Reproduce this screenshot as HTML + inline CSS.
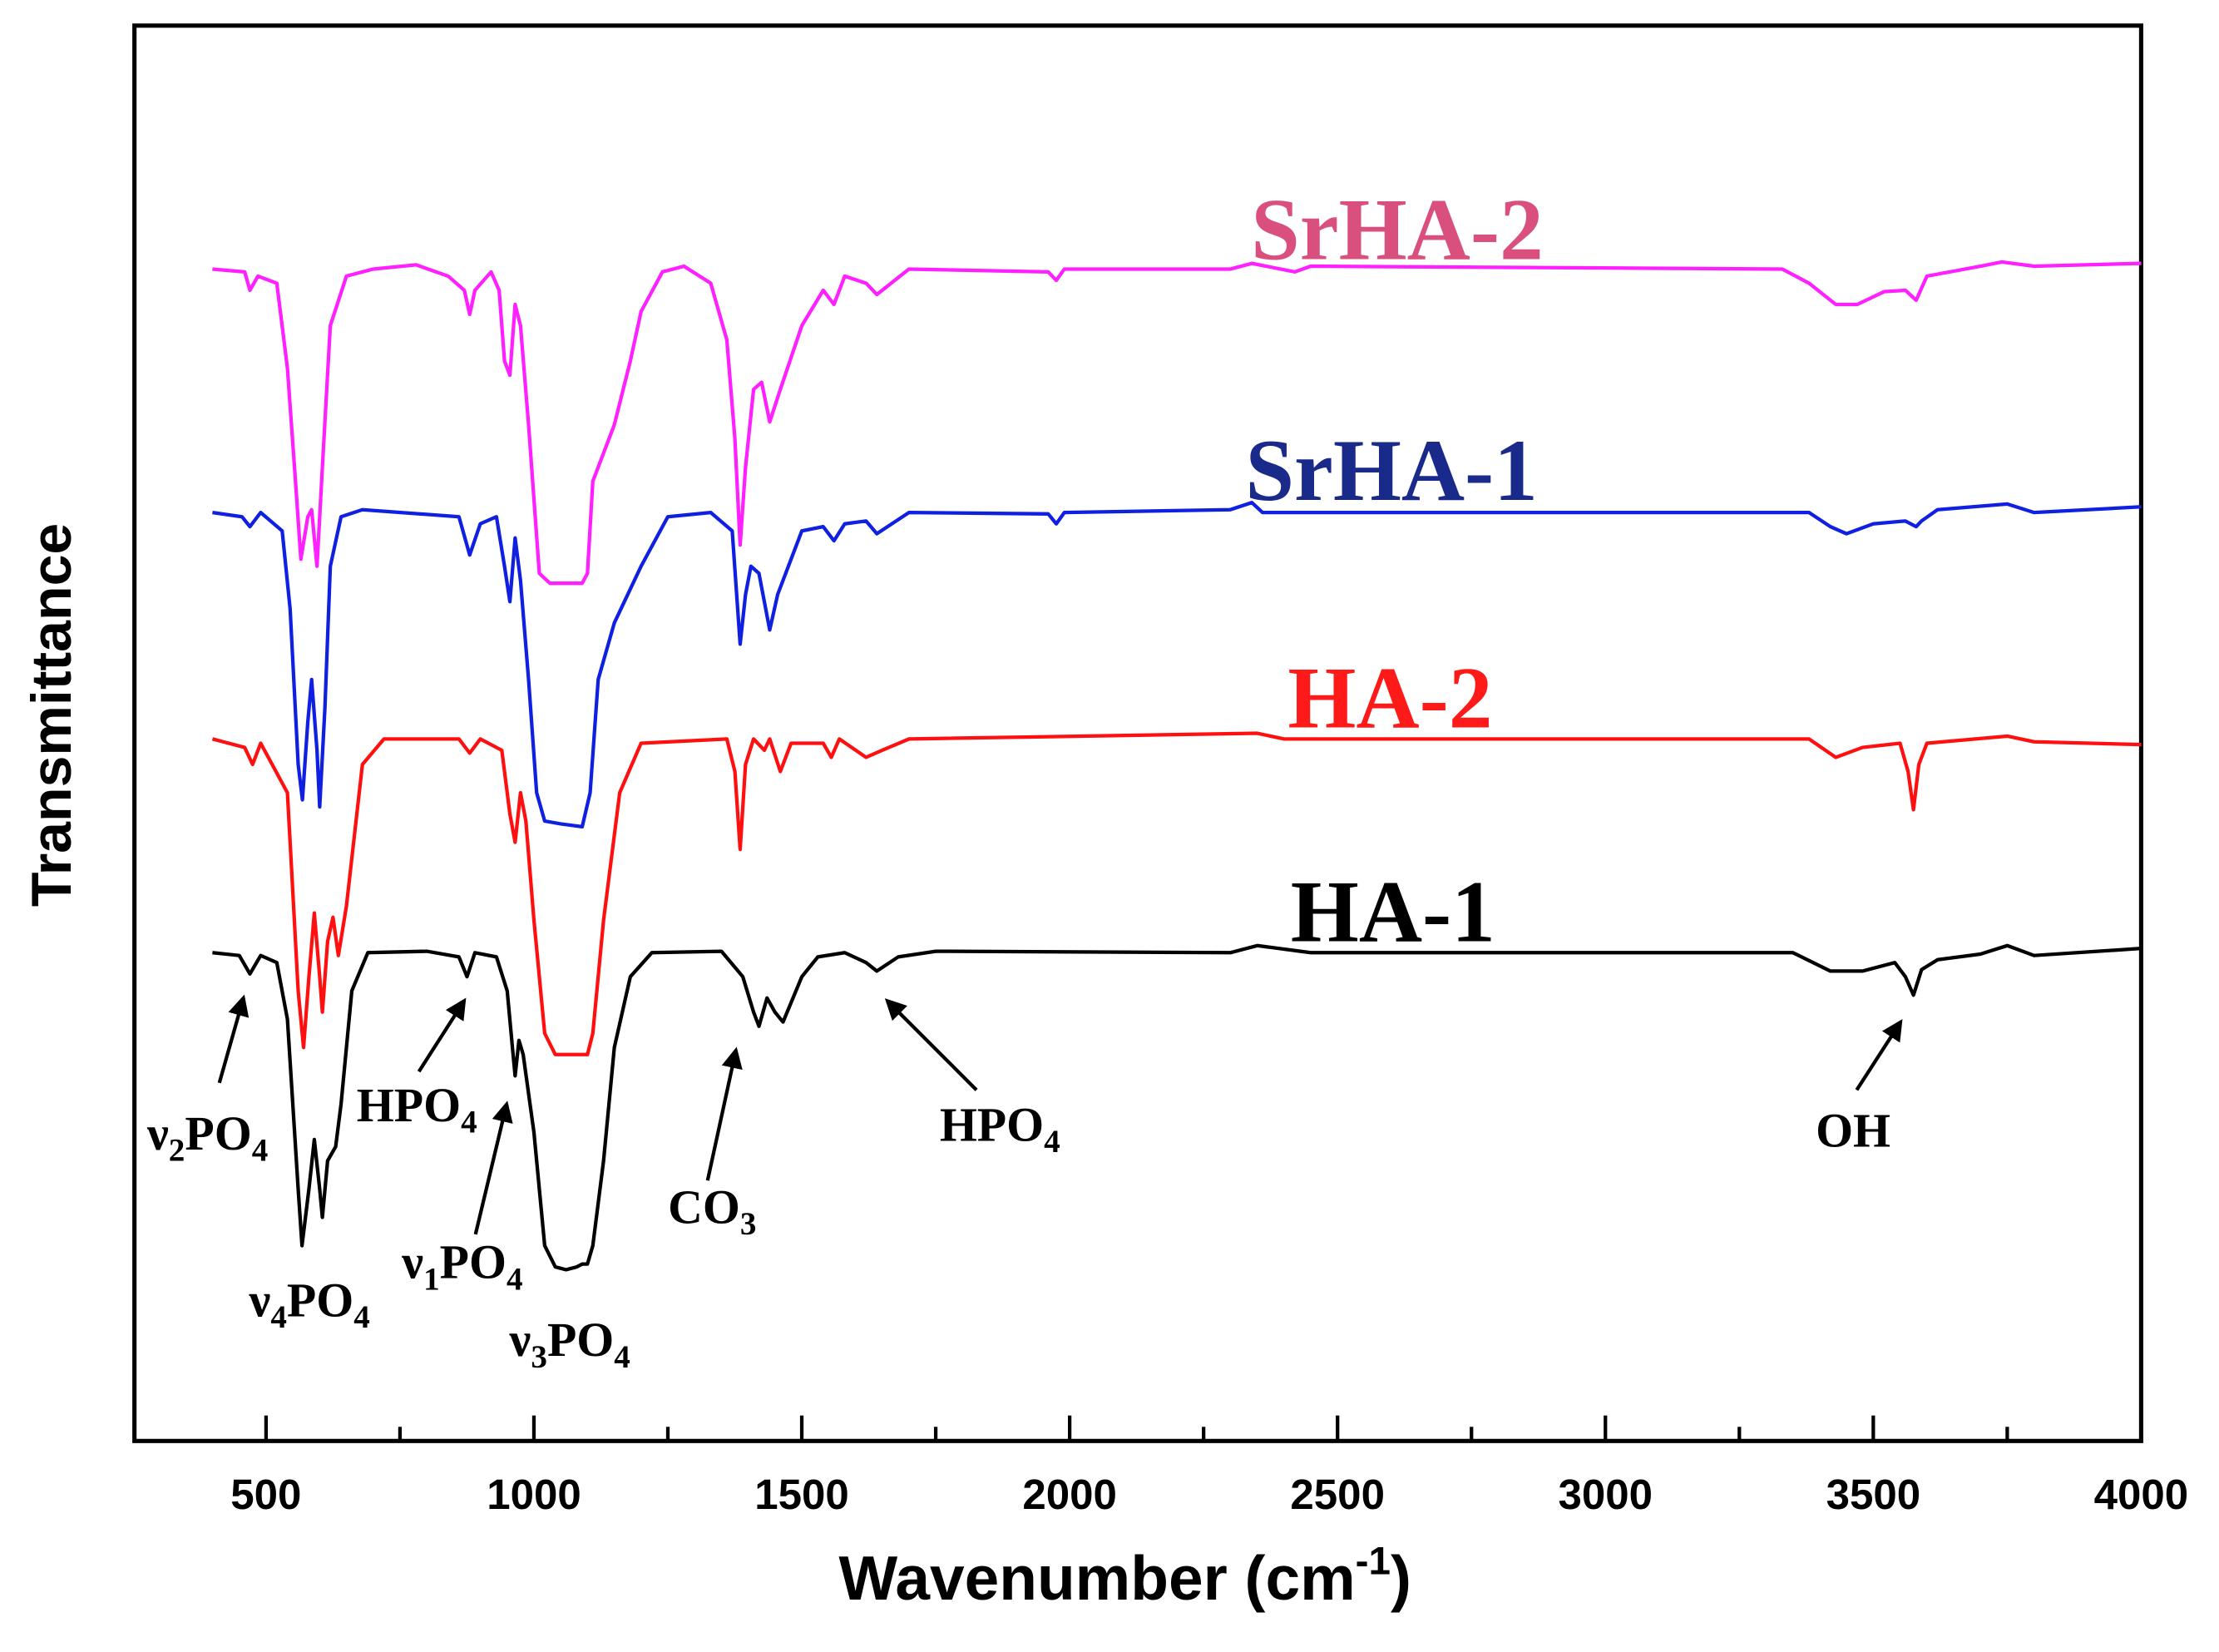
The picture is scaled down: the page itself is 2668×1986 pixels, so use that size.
<!DOCTYPE html>
<html><head><meta charset="utf-8"><style>
html,body{margin:0;padding:0;background:#fff}
svg{display:block}
.tick{font-family:"Liberation Sans",Arial,sans-serif;font-weight:bold;font-size:30px}
.ann{font-family:"Liberation Serif",serif;font-weight:bold;font-size:34px}
.sl{font-family:"Liberation Serif",serif;font-weight:bold;font-size:62px}
</style></head><body>
<svg id="chart" width="2668" height="1986" viewBox="0 0 1568 1167" xmlns="http://www.w3.org/2000/svg">
<defs><marker id="ah" markerWidth="6" markerHeight="6" refX="5" refY="3" orient="auto"><path d="M0,0 L6,3 L0,6 z" fill="#000"/></marker></defs>
<rect x="95" y="18" width="1418" height="1000" fill="none" stroke="#000" stroke-width="3"/>
<g id="xticks"></g>
<g id="series"></g>
<text x="795" y="1130" text-anchor="middle" font-family="Liberation Sans, Arial, sans-serif" font-weight="bold" font-size="44">Wavenumber (cm<tspan dy="-18" font-size="28">-1</tspan><tspan dy="18">)</tspan></text>
<text transform="translate(50,505) rotate(-90)" text-anchor="middle" font-family="Liberation Sans, Arial, sans-serif" font-weight="bold" font-size="40">Transmittance</text>
<text class="sl" x="884" y="183" fill="#d9507f">SrHA-2</text>
<text class="sl" x="880" y="353" fill="#1a2a8a">SrHA-1</text>
<text class="sl" x="910" y="514" fill="#ff1a1a">HA-2</text>
<text class="sl" x="912" y="665" fill="#000">HA-1</text>
<g stroke="#000" stroke-width="2.5" marker-end="url(#ah)">
<line x1="155" y1="765" x2="172" y2="705"/>
<line x1="296" y1="757" x2="328" y2="707"/>
<line x1="336" y1="872" x2="358" y2="780"/>
<line x1="500" y1="834" x2="520" y2="742"/>
<line x1="690" y1="770" x2="627" y2="707"/>
<line x1="1312" y1="770" x2="1343" y2="722"/>
</g>
<text class="ann" x="104" y="812">ν<tspan dy="8" font-size="23">2</tspan><tspan dy="-8">PO</tspan><tspan dy="8" font-size="23">4</tspan></text>
<text class="ann" x="176" y="930">ν<tspan dy="8" font-size="23">4</tspan><tspan dy="-8">PO</tspan><tspan dy="8" font-size="23">4</tspan></text>
<text class="ann" x="252" y="792">HPO<tspan dy="8" font-size="23">4</tspan></text>
<text class="ann" x="284" y="903">ν<tspan dy="8" font-size="23">1</tspan><tspan dy="-8">PO</tspan><tspan dy="8" font-size="23">4</tspan></text>
<text class="ann" x="360" y="958">ν<tspan dy="8" font-size="23">3</tspan><tspan dy="-8">PO</tspan><tspan dy="8" font-size="23">4</tspan></text>
<text class="ann" x="472" y="864">CO<tspan dy="8" font-size="23">3</tspan></text>
<text class="ann" x="664" y="806">HPO<tspan dy="8" font-size="23">4</tspan></text>
<text class="ann" x="1283" y="810">OH</text>
</svg>
<script>
const xTickValues=[500,1000,1500,2000,2500,3000,3500,4000];
const xMinorValues=[750,1250,1750,2250,2750,3250,3750];
const ha1W=[400,450,470,490,520,540,560,567,580,590,600,605,615,630,640,660,690,800,860,875,890,930,950,960,965,972,980,1000,1020,1040,1060,1080,1090,1100,1110,1130,1150,1180,1220,1350,1390,1410,1420,1435,1450,1465,1500,1530,1580,1620,1640,1680,1750,2300,2350,2450,3350,3420,3480,3540,3560,3575,3590,3620,3700,3750,3800,4000];
const ha1T=[673,675,688,675,680,720,840,880,840,805,840,860,820,810,780,700,673,672,676,690,673,676,700,740,760,735,745,800,880,895,897,895,893,893,880,820,740,690,673,672,690,715,725,705,715,722,690,676,673,680,686,676,672,673,668,673,673,686,686,680,690,703,685,678,674,668,675,670];
const ha2W=[400,460,475,490,540,560,570,580,590,600,605,615,625,635,650,680,720,860,880,900,940,955,965,975,985,1000,1020,1040,1100,1110,1130,1160,1200,1360,1375,1385,1395,1410,1430,1440,1460,1480,1540,1555,1570,1620,1650,1700,2350,2400,3380,3430,3480,3550,3565,3575,3585,3600,3750,3800,4000];
const ha2T=[522,528,540,525,560,700,740,690,645,690,715,665,648,675,640,540,522,522,532,522,530,575,595,560,580,650,730,745,745,730,650,560,525,522,545,600,540,522,530,522,545,525,525,535,522,535,530,522,518,522,522,535,528,525,545,572,540,525,520,524,526];
const srha1W=[400,455,470,490,530,545,560,568,578,585,595,600,610,620,640,680,860,880,900,930,945,955,965,975,990,1005,1020,1050,1090,1105,1120,1150,1200,1250,1330,1370,1385,1395,1405,1420,1440,1455,1500,1540,1560,1580,1620,1640,1700,1960,1975,1990,2300,2340,2360,3380,3420,3450,3500,3560,3580,3590,3620,3750,3800,4000];
const srha1T=[362,365,372,362,375,430,540,565,510,480,530,570,500,400,365,360,365,392,370,365,400,425,380,410,480,560,580,582,584,560,480,440,400,365,362,375,455,420,400,405,445,420,375,372,382,370,368,377,362,363,370,362,360,355,362,362,372,377,370,368,372,368,360,356,362,358];
const srha2W=[400,460,470,485,520,540,555,565,578,585,595,605,620,650,700,780,840,870,880,890,920,935,945,955,965,975,990,1010,1030,1090,1100,1110,1150,1180,1200,1240,1280,1330,1360,1375,1385,1395,1410,1425,1440,1460,1500,1540,1560,1580,1620,1640,1700,1960,1975,1990,2300,2340,2420,2450,3330,3380,3430,3470,3520,3560,3580,3600,3700,3740,3800,4000];
const srha2T=[190,192,205,195,200,260,340,395,365,360,400,330,230,195,190,187,195,205,222,205,192,205,255,265,215,230,300,405,412,412,405,340,300,255,220,192,188,200,240,310,385,330,275,270,298,275,230,205,215,195,200,208,190,192,198,190,190,186,192,188,190,200,215,215,206,205,212,195,188,185,188,186];
const seriesList=[["ha-1",ha1W,ha1T,"#000"],["ha-2",ha2W,ha2T,"#ff1010"],["srha-1",srha1W,srha1T,"#1020e0"],["srha-2",srha2W,srha2T,"#ff20ff"]];
const NS="http://www.w3.org/2000/svg";
function xScale(w){return 188+(w-500)*(1325/3500);}
function yScale(v){return 18+(v-18)*(1000/1000);}
const xg=document.getElementById('xticks');
xTickValues.forEach(function(v){
  const l=document.createElementNS(NS,'line');
  
  
  l.setAttribute('x1',xScale(v));l.setAttribute('x2',xScale(v));l.setAttribute('y1',1018);l.setAttribute('y2',1000);
  l.setAttribute('stroke','#000');l.setAttribute('stroke-width','2.5');xg.appendChild(l);
  const t=document.createElementNS(NS,'text');
  
  
  t.setAttribute('x',xScale(v));t.setAttribute('y',1066);t.setAttribute('text-anchor','middle');t.setAttribute('class','tick');
  t.textContent=v;xg.appendChild(t);
});
xMinorValues.forEach(function(v){
  const l=document.createElementNS(NS,'line');
  
  
  l.setAttribute('x1',xScale(v));l.setAttribute('x2',xScale(v));l.setAttribute('y1',1018);l.setAttribute('y2',1008);
  l.setAttribute('stroke','#000');l.setAttribute('stroke-width','2.5');xg.appendChild(l);
});
const sg=document.getElementById('series');
seriesList.forEach(function(s){
  let d='';
  for(let i=0;i<s[1].length;i++){d+=(i?'L':'M')+xScale(s[1][i]).toFixed(1)+','+yScale(s[2][i]).toFixed(1);}
  const p=document.createElementNS(NS,'path');
  
  
  p.setAttribute('d',d);p.setAttribute('fill','none');p.setAttribute('stroke',s[3]);p.setAttribute('stroke-width','2.5');p.setAttribute('stroke-linejoin','round');
  sg.appendChild(p);
});
</script>
</body></html>
